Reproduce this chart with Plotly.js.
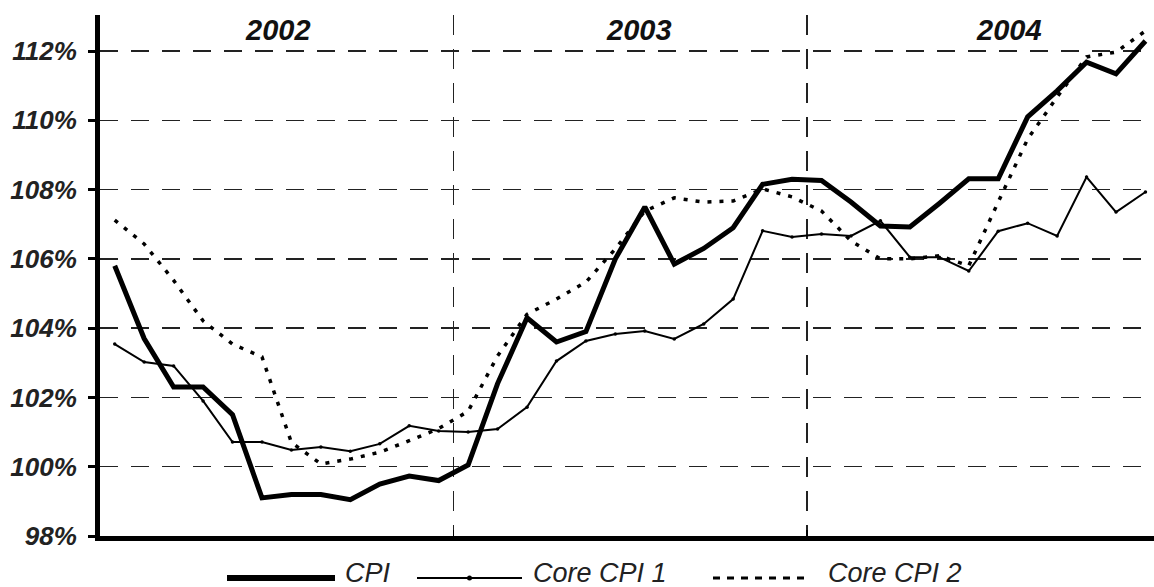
<!DOCTYPE html>
<html>
<head>
<meta charset="utf-8">
<script src="https://cdn.plot.ly/plotly-3.0.1.min.js"></script>
<style>
  html, body { margin: 0; padding: 0; background: #fff; }
  #chart { width: 1154px; height: 587px; }
</style>
</head>
<body>
<div id="chart"></div>
<script>
// ---- data (monthly index, Jan 2002 = month 0) ----
const months = Array.from({length: 36}, (_, i) => i);
const years = ["2002", "2003", "2004"];
const seriesNames = ["CPI", "Core CPI 1", "Core CPI 2"];

const cpi = [105.8, 103.7, 102.3, 102.3, 101.5, 99.1, 99.2, 99.2, 99.05, 99.5, 99.73, 99.6,
             100.05, 102.4, 104.3, 103.6, 103.9, 106.0, 107.5, 105.85, 106.3, 106.9, 108.15, 108.3,
             108.26, 107.64, 106.95, 106.92, 107.6, 108.31, 108.31, 110.1, 110.85, 111.68, 111.34, 112.29];

const core1 = [103.54, 103.02, 102.91, 101.9, 100.71, 100.71, 100.48, 100.57, 100.45, 100.66, 101.18, 101.03,
               101.0, 101.09, 101.72, 103.05, 103.63, 103.83, 103.92, 103.69, 104.12, 104.84, 106.81, 106.63,
               106.72, 106.66, 107.1, 106.05, 106.05, 105.65, 106.8, 107.03, 106.66, 108.36, 107.35, 107.93];

const core2 = [107.12, 106.43, 105.38, 104.21, 103.54, 103.17, 100.7, 100.08, 100.22, 100.42, 100.75, 101.1,
               101.6, 103.2, 104.4, 104.84, 105.33, 106.29, 107.38, 107.76, 107.64, 107.67, 108.02, 107.79,
               107.38, 106.52, 106.0, 106.0, 106.09, 105.8, 107.64, 109.46, 110.67, 111.83, 111.97, 112.58];

const yTicks = [98, 100, 102, 104, 106, 108, 110, 112];
const yTickText = yTicks.map(v => "<i>" + v + "%</i>");
const yearBoundaries = [11.5, 23.5];

// ---- traces ----
const traces = [
  { x: months, y: cpi, name: seriesNames[0], type: "scatter", mode: "lines",
    line: { color: "#000", width: 5 } },
  { x: months, y: core1, name: seriesNames[1], type: "scatter", mode: "lines+markers",
    line: { color: "#000", width: 2 }, marker: { color: "#000", size: 3.5 } },
  { x: months, y: core2, name: seriesNames[2], type: "scatter", mode: "lines",
    line: { color: "#000", width: 3.5, dash: "4px,8px" } }
];

// ---- layout ----
const W = 1154, H = 587;
const mL = 100, mR = 0, mT = 15, mB = 51;
const pw = W - mL - mR, ph = H - mT - mB;
const px2paperX = p => (p - mL) / pw;
const px2paperY = p => (H - mB - p) / ph;

const yearLabelPx = [278, 639, 1009];
const annotations = years.map((yr, i) => ({
  text: "<i><b>" + yr + "</b></i>", xref: "paper", yref: "paper",
  x: px2paperX(yearLabelPx[i]), y: px2paperY(30),
  xanchor: "center", yanchor: "middle", showarrow: false,
  font: { family: "Liberation Sans, Arial, sans-serif", size: 29, color: "#111" }
}));

// custom legend (line sample + label)
const legendY = px2paperY(578);
const legendLines = [[227, 335], [417, 522], [713, 808]];
const legendTextX = [343, 531, 826];
const legendStyles = [
  { color: "#000", width: 6, dash: "solid" },
  { color: "#000", width: 2, dash: "solid" },
  { color: "#000", width: 3, dash: "7px,7px" }
];
const shapes = [];
legendLines.forEach((seg, i) => {
  shapes.push({ type: "line", xref: "paper", yref: "paper",
    x0: px2paperX(seg[0]), x1: px2paperX(seg[1]), y0: legendY, y1: legendY,
    line: legendStyles[i] });
  annotations.push({ text: "<i>" + seriesNames[i] + "</i>", xref: "paper", yref: "paper",
    x: px2paperX(legendTextX[i]), y: px2paperY(573), xanchor: "left", yanchor: "middle",
    showarrow: false,
    font: { family: "Liberation Sans, Arial, sans-serif", size: 27, color: "#222" } });
});
// small marker on the Core CPI 1 legend line
shapes.push({ type: "circle", xref: "paper", yref: "paper",
  x0: px2paperX(467), x1: px2paperX(472), y0: legendY - 2.5 / ph, y1: legendY + 2.5 / ph,
  fillcolor: "#000", line: { width: 0 } });

const layout = {
  width: W, height: H,
  margin: { l: mL, r: mR, t: mT, b: mB, pad: 0 },
  paper_bgcolor: "#fff", plot_bgcolor: "#fff",
  showlegend: false,
  xaxis: {
    range: [-0.5, 35.29], showline: true, linecolor: "#000", linewidth: 5,
    tickmode: "array", tickvals: yearBoundaries, showticklabels: false,
    ticks: "inside", ticklen: 6, tickwidth: 1.5, tickcolor: "#000",
    showgrid: true, gridcolor: "#222", gridwidth: 1.5, griddash: "20px,14px",
    zeroline: false, fixedrange: true
  },
  yaxis: {
    range: [98, 113.04], showline: true, linecolor: "#000", linewidth: 5,
    tickmode: "array", tickvals: yTicks, ticktext: yTickText,
    ticks: "outside", ticklen: 7, tickwidth: 3, tickcolor: "#000",
    ticklabelstandoff: 6,
    tickfont: { family: "Liberation Sans, Arial, sans-serif", size: 26, weight: "bold", color: "#222" },
    showgrid: true, gridcolor: "#222", gridwidth: 1.5, griddash: "18px,13px",
    zeroline: false, fixedrange: true
  },
  annotations: annotations,
  shapes: shapes
};

Plotly.newPlot("chart", traces, layout, { staticPlot: true, displayModeBar: false });
</script>
</body>
</html>
